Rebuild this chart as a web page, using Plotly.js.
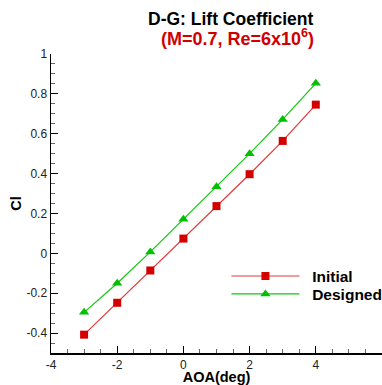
<!DOCTYPE html>
<html><head><meta charset="utf-8">
<script src="https://cdn.plot.ly/plotly-3.0.1.min.js"></script>
<style>html,body{margin:0;padding:0;background:#fff;}#chart{width:382px;height:385px;}</style>
</head><body><div id="chart"></div>
<script>
const aoa = [-3, -2, -1, 0, 1, 2, 3, 4];
const clInitial = [-0.408, -0.248, -0.086, 0.074, 0.237, 0.397, 0.564, 0.746];
const clDesigned = [-0.296, -0.150, 0.007, 0.171, 0.334, 0.500, 0.672, 0.853];
const seriesNames = ['Initial', 'Designed'];
const xTickVals = [-4, -2, 0, 2, 4, 6];
const xTickText = ['-4', '-2', '0', '2', '4', '6'];
const yTickVals = [-0.4, -0.2, 0, 0.2, 0.4, 0.6, 0.8, 1];
const yTickText = ['-0.4', '-0.2', '0', '0.2', '0.4', '0.6', '0.8', '1'];
const titleLine1 = 'D-G: Lift Coefficient';
const titleLine2 = '(M=0.7, Re=6x10<sup>6</sup>)';

const FONT = 'Arial, Liberation Sans, sans-serif';
const GAP = '\u2002';

const traces = [
  {x: aoa, y: clInitial, name: GAP + seriesNames[0], type: 'scatter', mode: 'lines+markers',
   legend: 'legend',
   line: {color: '#e03a3a', width: 1.2},
   marker: {symbol: 'square', size: 8, color: '#d40000', line: {width: 0}}},
  {x: aoa, y: clDesigned, name: GAP + seriesNames[1], type: 'scatter', mode: 'lines+markers',
   legend: 'legend2',
   line: {color: '#10c810', width: 1.2},
   marker: {symbol: 'triangle-up', size: 9, color: '#00c000', line: {width: 0}}}
];

const axFont = {family: FONT, size: 12, color: '#222'};
const legFont = {family: FONT, size: 15.5, color: '#000', weight: 'bold'};
const layout = {
  width: 382, height: 385,
  margin: {l: 51, r: 0, t: 54, b: 32, pad: 0, autoexpand: false},
  paper_bgcolor: '#fff', plot_bgcolor: '#fff',
  showlegend: true,
  annotations: [
    {text: '<b>' + titleLine1 + '</b>', xref: 'paper', yref: 'paper', x: 0.541, y: 1.118,
     xanchor: 'center', yanchor: 'middle', showarrow: false,
     font: {family: FONT, size: 17.5, color: '#000'}},
    {text: '<b>' + titleLine2 + '</b>', xref: 'paper', yref: 'paper', x: 0.562, y: 1.055,
     xanchor: 'center', yanchor: 'middle', showarrow: false,
     font: {family: FONT, size: 18, color: '#d00000'}}
  ],
  xaxis: {
    range: [-4, 6], tickmode: 'array', tickvals: xTickVals, ticktext: xTickText,
    ticks: 'inside', ticklen: 7, tickwidth: 1, automargin: false,
    tickcolor: '#000', showline: true, linecolor: '#000', linewidth: 1.5,
    showgrid: false, zeroline: false, tickfont: axFont,
    minor: {dtick: 0.5, tick0: -4, ticks: 'inside', ticklen: 4, tickcolor: '#666', showgrid: false},
    title: {text: '<b>AOA(deg)</b>', font: {family: FONT, size: 14.5, color: '#000'}, standoff: 3}
  },
  yaxis: {
    range: [-0.5, 1], tickmode: 'array', tickvals: yTickVals, ticktext: yTickText,
    ticks: 'inside', ticklen: 7, tickwidth: 1, automargin: false,
    tickcolor: '#000', showline: true, linecolor: '#000', linewidth: 1.5,
    showgrid: false, zeroline: false, tickfont: axFont,
    minor: {dtick: 0.05, tick0: 0, ticks: 'inside', ticklen: 4, tickcolor: '#666', showgrid: false},
    title: {text: '<b>Cl</b>', font: {family: FONT, size: 14.5, color: '#000'}, standoff: 1}
  },
  legend: {
    x: 0.53, y: 0.313, xanchor: 'left', yanchor: 'top', bgcolor: 'rgba(0,0,0,0)',
    itemwidth: 68, font: legFont
  },
  legend2: {
    x: 0.53, y: 0.253, xanchor: 'left', yanchor: 'top', bgcolor: 'rgba(0,0,0,0)',
    itemwidth: 68, font: legFont
  }
};

Plotly.newPlot('chart', traces, layout, {displayModeBar: false, staticPlot: true});
</script></body></html>
